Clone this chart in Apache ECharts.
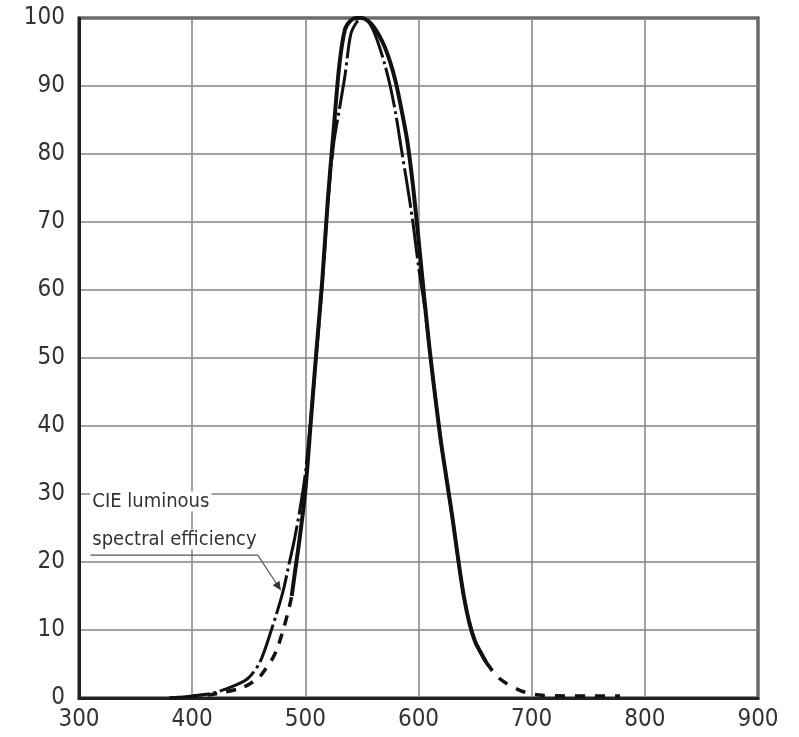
<!DOCTYPE html>
<html>
<head>
<meta charset="utf-8">
<script src="https://cdn.jsdelivr.net/npm/echarts@6/dist/echarts.min.js"></script>
<style>
html,body{margin:0;padding:0;background:#fff;}
#chart{width:799px;height:737px;}
</style>
</head>
<body>
<div id="chart"></div>
<script>
// ---- Data ----
const xTicks = [300, 400, 500, 600, 700, 800, 900];
const yTicks = [0, 10, 20, 30, 40, 50, 60, 70, 80, 90, 100];

// Sensor response, solid part
const sensorX = [488, 490, 495, 500, 505, 510, 515, 520, 525, 530, 535, 540, 545, 550, 555, 560, 565, 570, 575, 580, 585, 590, 595, 600, 605, 610, 615, 620, 625, 630, 635, 640, 645, 650, 655, 660];
const sensorY = [15, 17.5, 23.5, 30.5, 41, 51.5, 61.5, 73.5, 83.5, 93, 98.3, 99.6, 100, 100, 99.6, 98.8, 97.5, 95.8, 93.5, 90.5, 86.5, 82, 75.5, 67.5, 59, 51, 44, 37.5, 32, 26.5, 20.5, 15, 11, 8.3, 6.7, 5.2];
// Sensor response, dashed tails
const tailLeftX = [380, 400, 420, 440, 450, 460, 465, 470, 475, 480, 485, 488];
const tailLeftY = [0, 0.2, 0.6, 1.3, 2, 3.2, 4.3, 5.5, 7.2, 9.8, 12.8, 15];
const tailRightX = [660, 670, 680, 690, 700, 710, 730, 750, 778];
const tailRightY = [5.2, 3.1, 1.9, 1.1, 0.6, 0.4, 0.3, 0.3, 0.3];
// CIE luminous spectral efficiency (dash-dot)
const cieX = [380, 400, 420, 440, 450, 460, 470, 480, 486, 490, 495, 500, 505, 510, 515, 520, 525, 530, 535, 540, 545, 550, 555, 560, 565, 570, 575, 580, 585, 590, 595, 600, 605, 610, 620, 630, 640, 650, 660, 665];
const cieY = [0, 0.3, 0.8, 2, 3, 5.3, 10, 15.5, 20, 23, 27.5, 33, 41.5, 51, 61, 73, 81.5, 86.5, 91.5, 97.5, 99.3, 100, 99.6, 98.2, 96, 93.3, 90, 85.8, 80.6, 75.5, 70, 63.5, 58, 51, 37.5, 26.5, 15, 8.3, 5.2, 4];

const labelText = ['CIE luminous', 'spectral efficiency'];

const zip = (xs, ys) => xs.map((x, i) => [x, ys[i]]);
const FONT = "'DejaVu Sans Condensed', 'DejaVu Sans', sans-serif";

const chart = echarts.init(document.getElementById('chart'), null, {renderer: 'canvas'});
const option = {
  animation: false,
  backgroundColor: '#ffffff',
  grid: {left: 79, right: 41, top: 18, bottom: 39, show: true, borderColor: '#222', borderWidth: 3},
  xAxis: {
    type: 'value', min: 300, max: 900, interval: 100,
    axisLine: {show: true, lineStyle: {color: '#222', width: 3}},
    axisTick: {show: false},
    axisLabel: {color: '#333', fontSize: 24, fontFamily: FONT, margin: 10},
    splitLine: {show: true, lineStyle: {color: '#858585', width: 1.5}}
  },
  yAxis: {
    type: 'value', min: 0, max: 100, interval: 10,
    axisLine: {show: true, lineStyle: {color: '#222', width: 3}},
    axisTick: {show: false},
    axisLabel: {color: '#333', fontSize: 24, fontFamily: FONT, margin: 14},
    splitLine: {show: true, lineStyle: {color: '#858585', width: 1.5}}
  },
  series: [
    {type: 'line', data: zip(cieX, cieY), smooth: 0.3, showSymbol: false, z: 3,
     lineStyle: {color: '#111', width: 3, type: [40, 4, 3, 4]}},
    {type: 'line', data: zip(tailLeftX, tailLeftY), smooth: 0.3, showSymbol: false, z: 4,
     lineStyle: {color: '#111', width: 3.5, type: [10, 9]}},
    {type: 'line', data: zip(tailRightX, tailRightY), smooth: 0.3, showSymbol: false, z: 4,
     lineStyle: {color: '#111', width: 3.5, type: [10, 10]}},
    {type: 'line', data: zip(sensorX, sensorY), smooth: 0.3, showSymbol: false, z: 4,
     lineStyle: {color: '#111', width: 4}}
  ]
};
chart.setOption(option);

// Annotation positioned from data coordinates
const p = (x, y) => chart.convertToPixel({gridIndex: 0}, [x, y]);
const t1 = p(310, 28.9), t2 = p(310, 23.3);
const l0 = p(310, 21), l1 = p(458, 21), l2 = p(478.5, 15.8);
const ang = Math.atan2(l2[1] - l1[1], l2[0] - l1[0]);
const ah = 9, aw = 4;
const base = [l2[0] - ah * Math.cos(ang), l2[1] - ah * Math.sin(ang)];
const arrow = [
  l2,
  [base[0] + aw * Math.sin(ang), base[1] - aw * Math.cos(ang)],
  [base[0] - aw * Math.sin(ang), base[1] + aw * Math.cos(ang)]
];
chart.setOption({
  graphic: [
    {type: 'text', x: t1[0], y: t1[1], z: 10,
     style: {text: labelText[0], fill: '#333', font: '20px ' + FONT, textVerticalAlign: 'middle', verticalAlign: 'middle', backgroundColor: '#fff', padding: [0, 2, 0, 2]}},
    {type: 'text', x: t2[0], y: t2[1], z: 10,
     style: {text: labelText[1], fill: '#333', font: '20px ' + FONT, textVerticalAlign: 'middle', verticalAlign: 'middle', backgroundColor: '#fff', padding: [0, 2, 0, 2]}},
    {type: 'polyline', z: 10, shape: {points: [l0, l1, base]}, style: {stroke: '#555', lineWidth: 1.2, fill: null}},
    {type: 'polygon', z: 10, shape: {points: arrow}, style: {fill: '#333'}}
  ]
});
</script>
</body>
</html>
